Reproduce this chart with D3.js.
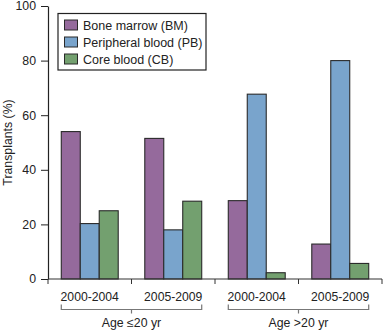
<!DOCTYPE html>
<html>
<head>
<meta charset="utf-8">
<script src="https://cdn.jsdelivr.net/npm/d3@7"></script>
<style>
  body { margin: 0; background: #fff; }
  text { font-family: "Liberation Sans", Arial, sans-serif; fill: #222; }
</style>
</head>
<body>
<div id="chart"></div>
<script>
// data
var periods = ["2000-2004", "2005-2009", "2000-2004", "2005-2009"];
var ageGroups = ["Age \u226420 yr", "Age >20 yr"];
var seriesNames = ["Bone marrow (BM)", "Peripheral blood (PB)", "Core blood (CB)"];
var bm = [54, 51.5, 28.7, 12.8];
var pb = [20.3, 18, 67.7, 80];
var cb = [25, 28.5, 2.3, 5.7];
var yTicks = [0, 20, 40, 60, 80, 100];

var colors = ["#956a9c", "#79a4cc", "#73a06f"];
var values = [bm, pb, cb];

var W = 383, H = 331;
var left = 48, right = 382, top_ = 6, bottom = 279;

var svg = d3.select("#chart").append("svg")
  .attr("width", W)
  .attr("height", H);

var groupKeys = periods.map(function(p, i) { return i; });

var x0 = d3.scaleBand().domain(groupKeys).range([left, right]).padding(0);
var x1 = d3.scaleBand().domain([0, 1, 2]).range([0, x0.bandwidth()])
  .paddingInner(0).paddingOuter(0.7);
var y = d3.scaleLinear().domain([0, 100]).range([bottom, top_]);

// bars
var g = svg.append("g");
groupKeys.forEach(function(gi) {
  values.forEach(function(arr, si) {
    g.append("rect")
      .attr("x", x0(gi) + x1(si))
      .attr("y", y(arr[gi]))
      .attr("width", x1.bandwidth())
      .attr("height", y(0) - y(arr[gi]))
      .attr("fill", colors[si])
      .attr("stroke", "#2a2a2a")
      .attr("stroke-width", 1.1);
  });
});

// y axis
var yAxis = svg.append("g")
  .attr("transform", "translate(" + left + ",0)")
  .call(d3.axisLeft(y).tickValues(yTicks).tickSizeOuter(0).tickSizeInner(7).tickPadding(5));
yAxis.select(".domain").attr("stroke", "#222").attr("stroke-width", 1.2);
yAxis.selectAll(".tick line").attr("stroke", "#222");
yAxis.selectAll("text").style("font-size", "12.3px").attr("fill", "#222")
  .style("font-family", "'Liberation Sans', Arial, sans-serif");

// x axis: ticks at group boundaries
var bounds = groupKeys.map(function(k) { return x0(k); }).concat([right]);
svg.append("line")
  .attr("x1", left).attr("x2", right)
  .attr("y1", bottom).attr("y2", bottom)
  .attr("stroke", "#333").attr("stroke-width", 1.2);
bounds.forEach(function(b) {
  svg.append("line")
    .attr("x1", b).attr("x2", b)
    .attr("y1", bottom).attr("y2", bottom + 5)
    .attr("stroke", "#333");
});

// period labels
groupKeys.forEach(function(gi) {
  svg.append("text")
    .attr("x", x0(gi) + x0.bandwidth() / 2)
    .attr("y", 301)
    .attr("text-anchor", "middle")
    .style("font-size", "12.2px")
    .text(periods[gi]);
});

// brackets for age groups
ageGroups.forEach(function(label, ai) {
  var gA = groupKeys[ai * 2], gB = groupKeys[ai * 2 + 1];
  var xa = x0(gA) + x1(0);
  var xb = x0(gB) + x1(2) + x1.bandwidth();
  var xc = x0(gB);
  var by = 309.5;
  svg.append("path")
    .attr("d", "M" + xa + "," + (by - 5) + "V" + by + "H" + xb + "V" + (by - 5) +
      "M" + xc + "," + by + "V" + (by + 4))
    .attr("fill", "none")
    .attr("stroke", "#777")
    .attr("stroke-width", 1.2);
  svg.append("text")
    .attr("x", xc)
    .attr("y", 327)
    .attr("text-anchor", "middle")
    .style("font-size", "12.3px")
    .text(label);
});

// y title
svg.append("text")
  .attr("transform", "translate(12," + ((top_ + bottom) / 2) + ") rotate(-90)")
  .attr("text-anchor", "middle")
  .style("font-size", "12.3px")
  .text("Transplants (%)");

// legend
var lg = svg.append("g");
lg.append("rect")
  .attr("x", 58).attr("y", 13.5)
  .attr("width", 148).attr("height", 56.5)
  .attr("fill", "#fff")
  .attr("stroke", "#222")
  .attr("stroke-width", 1.2);
seriesNames.forEach(function(name, si) {
  var cy = 25 + si * 17;
  lg.append("rect")
    .attr("x", 64.5).attr("y", cy - 5)
    .attr("width", 13).attr("height", 10)
    .attr("fill", colors[si])
    .attr("stroke", "#2a2a2a");
  lg.append("text")
    .attr("x", 83)
    .attr("y", cy + 4.5)
    .style("font-size", "12.5px")
    .text(name);
});
</script>
</body>
</html>
